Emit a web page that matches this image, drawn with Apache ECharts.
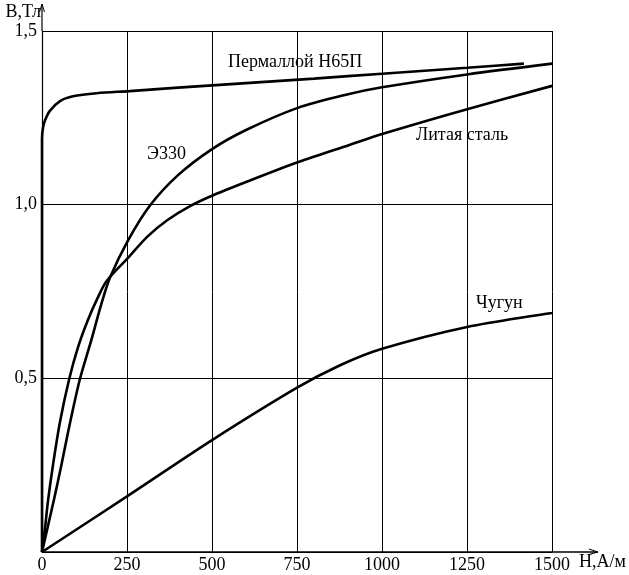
<!DOCTYPE html>
<html>
<head>
<meta charset="utf-8">
<script src="https://cdn.jsdelivr.net/npm/echarts@6/dist/echarts.min.js"></script>
<style>html,body{margin:0;padding:0;background:#fff;}#c{width:629px;height:575px;}</style>
</head>
<body>
<div id="c"></div>
<script>
// Tick values
const xTicks = [0, 250, 500, 750, 1000, 1250, 1500];
const yTicks = [0, 0.5, 1.0, 1.5];
// Series names
const seriesNames = ['Пермаллой Н65П', 'Э330', 'Литая сталь', 'Чугун'];
// [H, B] values
const permalloy = [[0,0],[0,1.19],[3,1.222],[9,1.243],[23,1.270],[53,1.298],[91,1.312],[161,1.321],[258,1.327],[400,1.337],[600,1.350],[800,1.363],[1000,1.377],[1250,1.394],[1417,1.406]];
const e330 = [[0,0],[14,0.06],[35,0.15],[58,0.255],[82,0.37],[111,0.496],[145,0.61],[174,0.712],[200,0.79],[253,0.897],[317,0.997],[400,1.085],[500,1.16],[600,1.215],[750,1.278],[900,1.318],[1000,1.338],[1250,1.375],[1500,1.406]];
const castSteel = [[0,0],[9,0.07],[18,0.15],[33,0.255],[53,0.375],[80,0.498],[106,0.59],[135,0.668],[162,0.728],[190,0.78],[253,0.847],[310,0.908],[368,0.955],[434,0.995],[503,1.027],[610,1.069],[752,1.122],[904,1.172],[1005,1.205],[1250,1.275],[1500,1.342]];
const castIron = [[0,0],[250,0.160],[500,0.322],[750,0.473],[875,0.537],[1000,0.585],[1250,0.648],[1500,0.688]];

const FONT = 'Liberation Serif';
const FS = 18;
const chart = echarts.init(document.getElementById('c'), null, {renderer: 'canvas'});
const lineSeries = (name, data) => ({
  name, type: 'line', data, showSymbol: false, smooth: 0.3, clip: false,
  lineStyle: {color: '#000', width: 2.6}, z: 5
});
chart.setOption({
  animation: false,
  backgroundColor: '#fff',
  grid: {left: 42, right: 76, top: 31, bottom: 23, containLabel: false},
  xAxis: {
    type: 'value', min: xTicks[0], max: xTicks[xTicks.length-1], interval: xTicks[1]-xTicks[0],
    name: 'Н,А/м', nameLocation: 'end', nameGap: 27,
    nameTextStyle: {fontFamily: FONT, fontSize: FS, color: '#000', verticalAlign: 'top', align: 'left', padding: [1,0,0,0]},
    axisLine: {lineStyle: {color: '#000', width: 1.5}},
    axisTick: {show: false},
    axisLabel: {fontFamily: FONT, fontSize: FS, color: '#000', margin: 4, formatter: v => String(v)},
    splitLine: {show: true, lineStyle: {color: '#000', width: 1}}
  },
  yAxis: {
    type: 'value', min: yTicks[0], max: yTicks[yTicks.length-1], interval: yTicks[1]-yTicks[0],
    name: 'В,Тл', nameLocation: 'end', nameGap: 19,
    nameTextStyle: {fontFamily: FONT, fontSize: FS, color: '#000', align: 'right', verticalAlign: 'middle', padding: [0,1,0,0]},
    axisLine: {lineStyle: {color: '#000', width: 1.2}},
    axisTick: {show: false},
    axisLabel: {fontFamily: FONT, fontSize: FS, color: '#000', margin: 5,
      formatter: v => v === 0 ? '' : v.toFixed(1).replace('.', ',')},
    splitLine: {show: true, lineStyle: {color: '#000', width: 1}}
  },
  series: [
    lineSeries(seriesNames[0], permalloy),
    lineSeries(seriesNames[1], e330),
    lineSeries(seriesNames[2], castSteel),
    lineSeries(seriesNames[3], castIron)
  ]
});
// axis extensions with arrows (decoration) + curve labels
const o = chart.convertToPixel({gridIndex: 0}, [0, 0]);
const tr = chart.convertToPixel({gridIndex: 0}, [1500, 1.5]);
const yTop = 4, xEnd = 598;
const txt = (text, x, y) => ({type: 'text', x, y, style: {text, font: FS + 'px "' + FONT + '"', fill: '#000', textAlign: 'left', textVerticalAlign: 'middle'}});
chart.setOption({
  graphic: [
    {type: 'line', shape: {x1: o[0], y1: tr[1], x2: o[0], y2: yTop}, style: {stroke: '#000', lineWidth: 1.2}},
    {type: 'polyline', shape: {points: [[o[0]-2.5, yTop+8], [o[0], yTop], [o[0]+2.5, yTop+8]]}, style: {stroke: '#000', lineWidth: 1, fill: null}},
    {type: 'line', shape: {x1: tr[0], y1: o[1], x2: xEnd, y2: o[1]}, style: {stroke: '#000', lineWidth: 1.5}},
    {type: 'polyline', shape: {points: [[xEnd-9, o[1]-3], [xEnd, o[1]], [xEnd-9, o[1]+2.5]]}, style: {stroke: '#000', lineWidth: 1, fill: null}},
    txt(seriesNames[0], 228, 62),
    txt(seriesNames[1], 147, 154),
    txt(seriesNames[2], 416, 135),
    txt(seriesNames[3], 476, 303)
  ]
});
</script>
</body>
</html>
